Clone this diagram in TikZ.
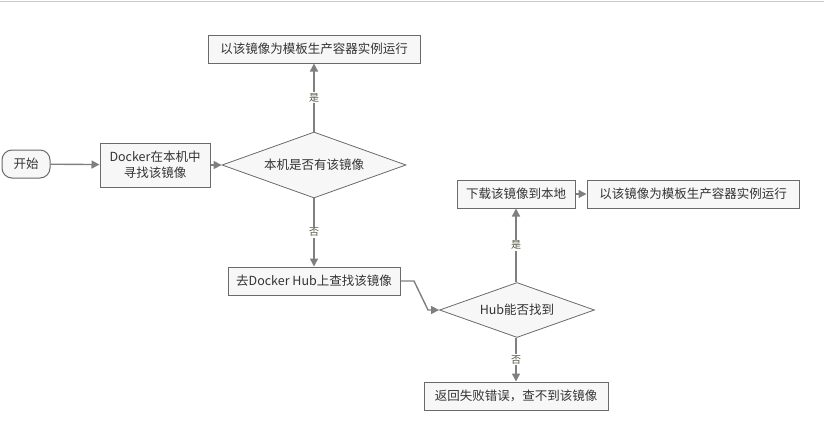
\documentclass[tikz,border=0pt]{standalone}
\usepackage{fontspec}
\setmainfont{Noto Sans CJK SC}
\usetikzlibrary{shapes.geometric,arrows.meta}
\definecolor{boxfill}{HTML}{F7F7F7}
\definecolor{boxline}{HTML}{6A6A6A}
\definecolor{arrowc}{HTML}{7F7F7F}
\definecolor{lblc}{HTML}{555544}
\tikzset{
  stepbox/.style={draw=boxline, fill=boxfill, line width=1pt, inner sep=0pt, font=\fontsize{12.5}{16}\selectfont, text=black!80},
  decide/.style={diamond, draw=boxline, fill=boxfill, line width=0.8pt, inner sep=0pt, font=\fontsize{12.5}{16}\selectfont, text=black!80},
  conn/.style={draw=arrowc, line width=1.4pt, -{Triangle[length=8pt,width=8pt]}},
  lbl/.style={fill=white, inner sep=1pt, font=\fontsize{10}{12}\selectfont, text=lblc}
}
\begin{document}
\begin{tikzpicture}[x=1pt,y=-1pt]
\useasboundingbox (0,0) rectangle (824,426);
\draw[gray!40, line width=1pt] (0,1.5) -- (824,1.5);
\node[stepbox, rounded corners=10pt, minimum width=48pt, minimum height=28pt] (start) at (26,164) {开始};
\node[stepbox, minimum width=110pt, minimum height=44pt, align=center] (find) at (155,165) {Docker在本机中\\寻找该镜像};
\node[decide, minimum width=184pt, minimum height=66pt, aspect=2.8] (d1) at (314,165) {本机是否有该镜像};
\node[stepbox, minimum width=212pt, minimum height=28pt] (run1) at (314,49) {以该镜像为模板生产容器实例运行};
\node[stepbox, minimum width=172pt, minimum height=28pt] (hub) at (314,281) {去Docker Hub上查找该镜像};
\node[decide, minimum width=155pt, minimum height=55pt, aspect=2.8] (d2) at (517,310) {Hub能否找到};
\node[stepbox, minimum width=118pt, minimum height=28pt] (pull) at (516,194) {下载该镜像到本地};
\node[stepbox, minimum width=212pt, minimum height=28pt] (run2) at (693,194) {以该镜像为模板生产容器实例运行};
\node[stepbox, minimum width=184pt, minimum height=28pt] (fail) at (516,396) {返回失败错误，查不到该镜像};
\coordinate (k1) at (414,281);
\coordinate (k2) at (428,310);
\draw[conn] (start) -- (find);
\draw[conn] (find) -- (d1);
\draw[conn] (d1.north) -- node[lbl] {是} (run1.south);
\draw[conn] (d1.south) -- node[lbl] {否} (hub.north);
\draw[conn] (hub.east) -- (k1) -- (k2) -- (d2.west);
\draw[conn] (d2.north -| pull.south) -- node[lbl] {是} (pull.south);
\draw[conn] (pull) -- (run2);
\draw[conn] (d2.south -| fail.north) -- node[lbl] {否} (fail.north);
\end{tikzpicture}
\end{document}
